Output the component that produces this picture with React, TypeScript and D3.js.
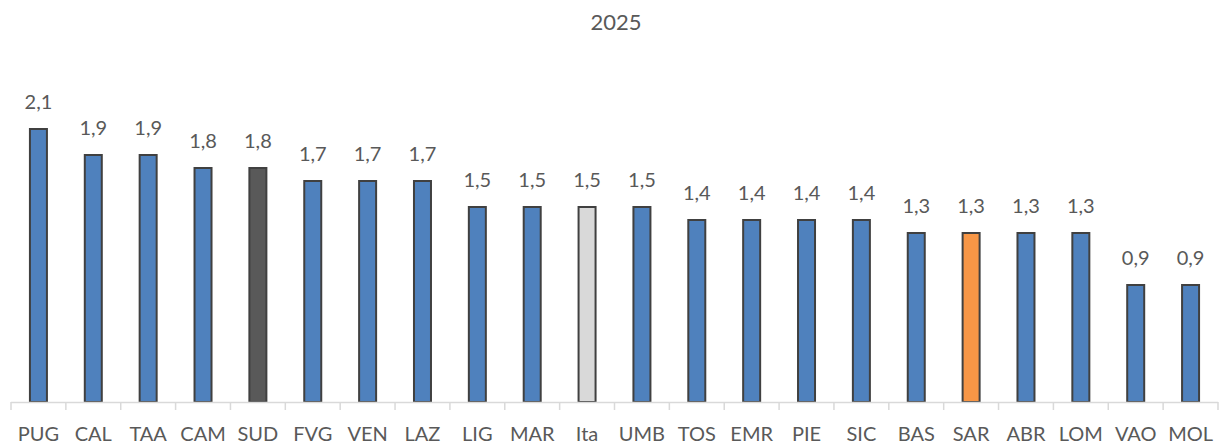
import React from "react";
import * as d3 from "d3";

const regions = [
  "PUG", "CAL", "TAA", "CAM", "SUD", "FVG", "VEN", "LAZ", "LIG", "MAR", "Ita",
  "UMB", "TOS", "EMR", "PIE", "SIC", "BAS", "SAR", "ABR", "LOM", "VAO", "MOL",
];
const values = [
  2.1, 1.9, 1.9, 1.8, 1.8, 1.7, 1.7, 1.7, 1.5, 1.5, 1.5,
  1.5, 1.4, 1.4, 1.4, 1.4, 1.3, 1.3, 1.3, 1.3, 0.9, 0.9,
];
const highlight: Record<string, string> = {
  SUD: "#595959",
  Ita: "#d9d9d9",
  SAR: "#f79646",
};

const W = 1224;
const H = 446;
const textColor = "#595959";
const font = "Lato, 'Open Sans', sans-serif";

export default function App() {
  const x = d3.scaleBand<string>().domain(regions).range([11, 1218]).paddingInner(0).paddingOuter(0);
  const y = d3.scaleLinear().domain([0, 2.5]).range([402, 77]);
  const barW = 17;
  const fmt = (v: number) => d3.format(".1f")(v).replace(".", ",");

  return (
    <svg
      width={W}
      height={H}
      style={{ position: "absolute", left: 0, top: 0, background: "#fff" }}
      fontFamily={font}
    >
      <text x={616} y={30} textAnchor="middle" fontSize={22} fill={textColor}>
        2025
      </text>
      {regions.map((r, i) => {
        const cx = (x(r) ?? 0) + x.bandwidth() / 2;
        const top = y(values[i]);
        return (
          <g key={r}>
            <rect
              x={cx - barW / 2}
              y={top}
              width={barW}
              height={y(0) - top}
              fill={highlight[r] ?? "#4f81bd"}
              stroke="#404040"
              strokeWidth={2}
            />
            <text x={cx} y={top - 20} textAnchor="middle" fontSize={20} fill={textColor}>
              {fmt(values[i])}
            </text>
            <text x={cx} y={441} textAnchor="middle" fontSize={20} fill={textColor}>
              {r}
            </text>
          </g>
        );
      })}
      <line x1={11} x2={1218} y1={402.5} y2={402.5} stroke="#d9d9d9" strokeWidth={1.5} />
      {[...regions.map((r) => x(r) ?? 0), 1218].map((t, i) => (
        <line key={i} x1={t} x2={t} y1={402} y2={410} stroke="#d9d9d9" strokeWidth={1.5} />
      ))}
    </svg>
  );
}
